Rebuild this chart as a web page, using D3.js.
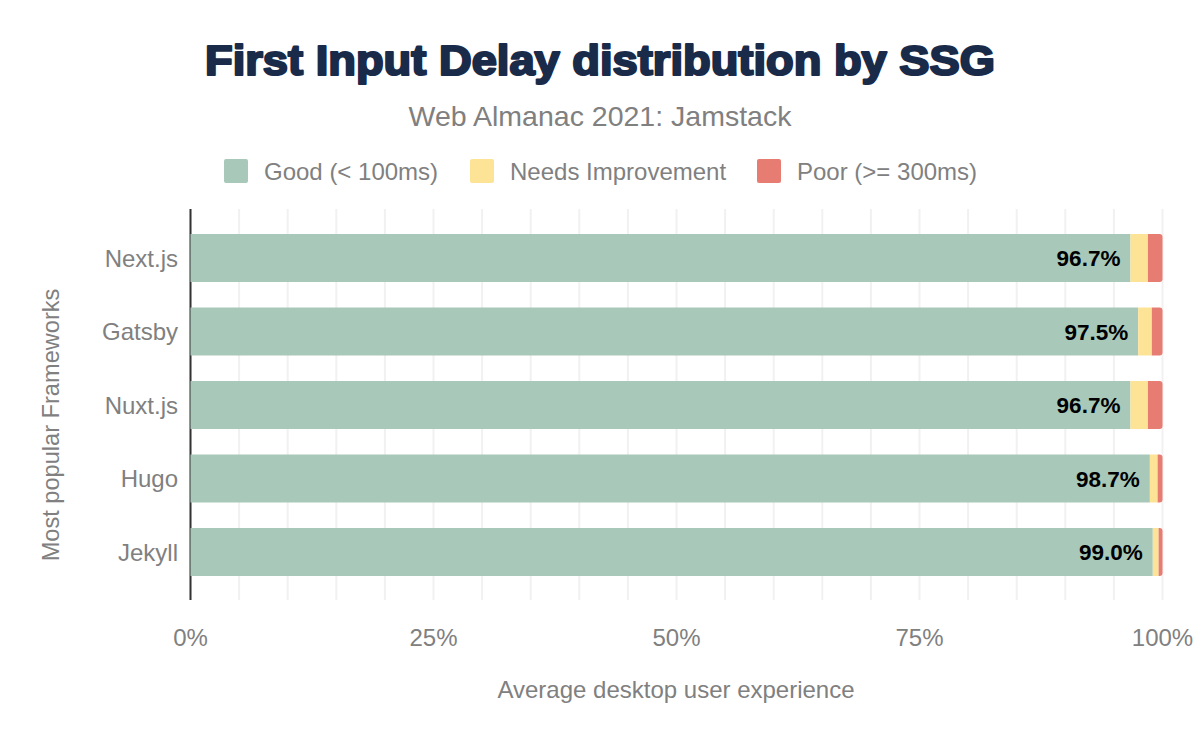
<!DOCTYPE html>
<html>
<head>
<meta charset="utf-8">
<script src="https://cdn.jsdelivr.net/npm/d3@7"></script>
<style>
  html, body { margin: 0; padding: 0; background: #fff; }
  svg { display: block; font-family: "Liberation Sans", Arial, sans-serif; }
</style>
</head>
<body>
<svg id="chart" width="1200" height="742"></svg>
<script>
const frameworks = ["Next.js", "Gatsby", "Nuxt.js", "Hugo", "Jekyll"];
const good = [96.7, 97.5, 96.7, 98.7, 99.0];
const needsImprovement = [1.8, 1.4, 1.8, 0.8, 0.6];
const poor = [1.5, 1.1, 1.5, 0.5, 0.4];
const seriesNames = ["Good (< 100ms)", "Needs Improvement", "Poor (>= 300ms)"];
const seriesColors = ["#a8c9ba", "#fde396", "#e77c73"];
const xTicks = [0, 25, 50, 75, 100];
const gridTicks = d3.range(0, 101, 5);

const svg = d3.select("#chart");
const x = d3.scaleLinear().domain([0, 100]).range([190.5, 1162.5]);
const y = d3.scaleBand().domain(frameworks).range([221.25, 588.75])
  .paddingInner(0.347).paddingOuter(0.1735);

const plotTop = 209, plotBottom = 600;

// grid
svg.append("g").selectAll("line").data(gridTicks).join("line")
  .attr("x1", d => x(d)).attr("x2", d => x(d))
  .attr("y1", plotTop).attr("y2", plotBottom)
  .attr("stroke", "#f1f1f1").attr("stroke-width", 2);

// axis line
svg.append("line").attr("x1", x(0)).attr("x2", x(0))
  .attr("y1", plotTop).attr("y2", plotBottom)
  .attr("stroke", "#333").attr("stroke-width", 2);

const rows = frameworks.map((f, i) => ({ f, vals: [good[i], needsImprovement[i], poor[i]] }));

const stackData = rows.map(r => {
  let acc = 0;
  return r.vals.map((v, k) => { const s = acc; acc += v; return { f: r.f, k, x0: s, x1: acc }; });
});

const bh = y.bandwidth();
stackData.forEach(segs => {
  const g = svg.append("g");
  segs.forEach(s => {
    const x0 = x(s.x0), x1 = x(s.x1), yy = y(s.f);
    if (s.k === 2) {
      const r = 3;
      const w = x1 - x0;
      const rr = Math.min(r, w);
      g.append("path")
        .attr("d", `M${x0},${yy} H${x1 - rr} Q${x1},${yy} ${x1},${yy + rr} V${yy + bh - rr} Q${x1},${yy + bh} ${x1 - rr},${yy + bh} H${x0} Z`)
        .attr("fill", seriesColors[2]);
    } else {
      g.append("rect").attr("x", x0).attr("y", yy).attr("width", x1 - x0).attr("height", bh)
        .attr("fill", seriesColors[s.k]);
    }
  });
});

// value labels
svg.append("g").selectAll("text").data(rows).join("text")
  .attr("x", d => x(d.vals[0]) - 10)
  .attr("y", d => y(d.f) + bh / 2)
  .attr("dy", "0.36em")
  .attr("text-anchor", "end")
  .attr("font-size", 22.5).attr("font-weight", "bold").attr("fill", "#000")
  .text(d => d.vals[0].toFixed(1) + "%");

// y labels
svg.append("g").selectAll("text").data(frameworks).join("text")
  .attr("x", 178).attr("y", d => y(d) + bh / 2).attr("dy", "0.36em")
  .attr("text-anchor", "end").attr("font-size", 24).attr("fill", "#808080")
  .text(d => d);

// x tick labels
svg.append("g").selectAll("text").data(xTicks).join("text")
  .attr("x", d => x(d)).attr("y", 637)
  .attr("dy", "0.36em")
  .attr("text-anchor", "middle").attr("font-size", 24).attr("fill", "#808080")
  .text(d => d + "%");

// axis titles
svg.append("text").attr("x", 676).attr("y", 698).attr("text-anchor", "middle")
  .attr("font-size", 24).attr("fill", "#808080").text("Average desktop user experience");
svg.append("text").attr("transform", "translate(59,425) rotate(-90)")
  .attr("text-anchor", "middle").attr("font-size", 23.6).attr("fill", "#808080")
  .text("Most popular Frameworks");

// title
svg.append("text").attr("x", 600).attr("y", 75).attr("text-anchor", "middle")
  .attr("font-size", 42).attr("font-weight", "bold").attr("fill", "#1a2b4a")
  .attr("stroke", "#1a2b4a").attr("stroke-width", 2.2).attr("stroke-linejoin", "round")
  .attr("textLength", 790).attr("lengthAdjust", "spacingAndGlyphs")
  .text("First Input Delay distribution by SSG");

svg.append("text").attr("x", 600).attr("y", 126).attr("text-anchor", "middle")
  .attr("font-size", 28.5).attr("fill", "#808080").text("Web Almanac 2021: Jamstack");

// legend
const legendX = [224, 470, 757];
const lg = svg.append("g");
seriesNames.forEach((n, i) => {
  lg.append("rect").attr("x", legendX[i]).attr("y", 159).attr("width", 24).attr("height", 24)
    .attr("rx", 2).attr("fill", seriesColors[i]);
  lg.append("text").attr("x", legendX[i] + 40).attr("y", 171).attr("dy", "0.36em")
    .attr("font-size", 24).attr("fill", "#808080").text(n);
});
</script>
</body>
</html>
